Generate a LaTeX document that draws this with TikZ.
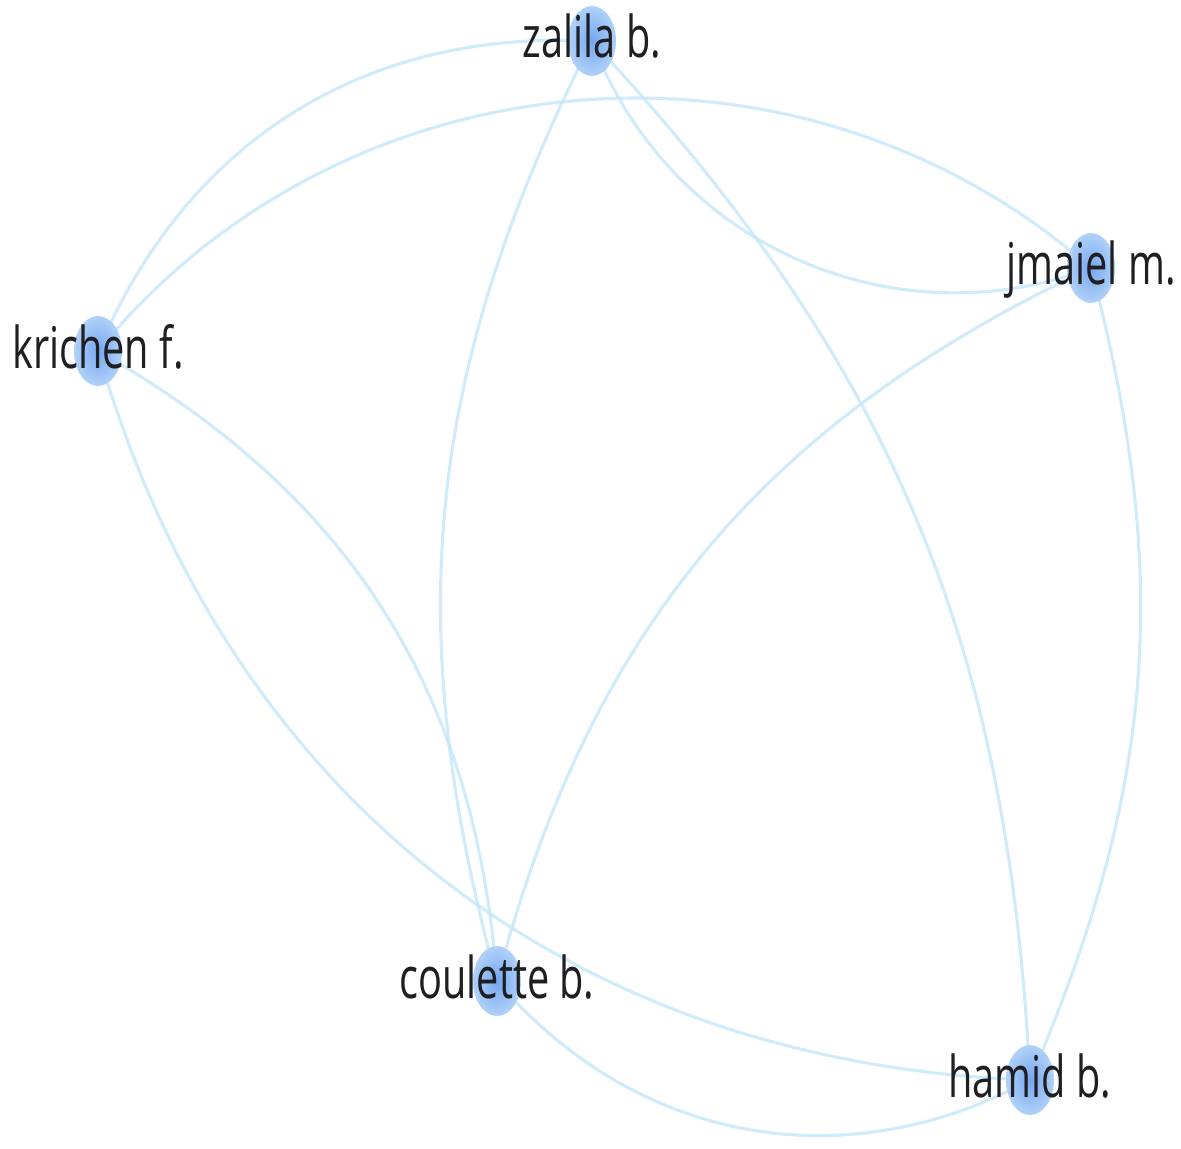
\documentclass[tikz,border=0pt]{standalone}
\usepackage{fontspec}
\newfontfamily\authorfont{Open Sans}
\usetikzlibrary{shapes.geometric,backgrounds}
\definecolor{linkblue}{RGB}{200,232,248}
\definecolor{dotinner}{RGB}{118,166,240}
\definecolor{dotouter}{RGB}{176,210,248}
\definecolor{labelgray}{RGB}{30,30,35}

\begin{document}
\begin{tikzpicture}[
    authornode/.style={ellipse, minimum width=0.48cm, minimum height=0.70cm, inner sep=0pt, shading=radial, inner color=dotinner, outer color=dotouter},
    authorlabel/.style={anchor=base, yshift=-0.17cm, yscale=1.45, text=labelgray, font=\authorfont\fontsize{11.3}{13}\selectfont, inner sep=0pt},
    linkedge/.style={draw=linkblue, line width=0.9pt, opacity=0.85},
]
\useasboundingbox (0,0) rectangle (11.81,11.48);

\node[authornode] (zalila) at (5.92, 11.07) {};
\node[authornode] (jmaiel) at (10.91, 8.80) {};
\node[authornode] (krichen) at (0.98, 7.97) {};
\node[authornode] (coulette) at (4.97, 1.67) {};
\node[authornode] (hamid) at (10.30, 0.68) {};

\node[authorlabel] (zalilalabel) at (zalila.center) {zalila b.};
\node[authorlabel] (jmaiellabel) at (jmaiel.center) {jmaiel m.};
\node[authorlabel] (krichenlabel) at (krichen.center) {krichen f.};
\node[authorlabel] (coulettelabel) at (coulette.center) {coulette b.};
\node[authorlabel] (hamidlabel) at (hamid.center) {hamid b.};

\begin{scope}[on background layer]
\draw[linkedge] (zalila.center) to[bend right=35] (krichen.center);
\draw[linkedge] (krichen.center) to[bend left=46] (jmaiel.center);
\draw[linkedge] (zalila.center) to[bend right=45] (jmaiel.center);
\draw[linkedge] (zalila.center) to[bend left=20] (hamid.center);
\draw[linkedge] (zalila.center) to[bend right=21] (coulette.center);
\draw[linkedge] (krichen.center) to[bend left=28] (coulette.center);
\draw[linkedge] (krichen.center) to[bend right=36] (hamid.center);
\draw[linkedge] (jmaiel.center) to[bend right=25] (coulette.center);
\draw[linkedge] (jmaiel.center) to[bend left=19] (hamid.center);
\draw[linkedge] (coulette.center) to[bend right=39] (hamid.center);
\end{scope}

\end{tikzpicture}
\end{document}
